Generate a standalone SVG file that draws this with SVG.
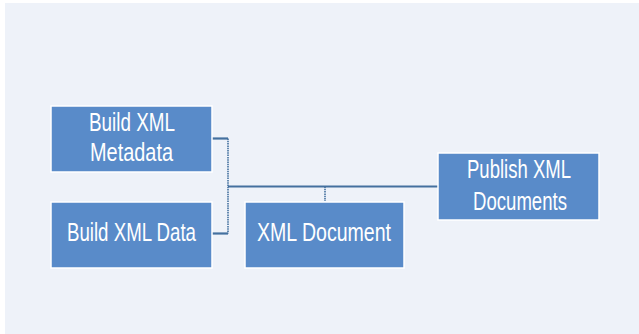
<svg xmlns="http://www.w3.org/2000/svg" width="639" height="334" viewBox="0 0 639 334">
<style>
.box{fill:#598BC9;stroke:#ffffff;stroke-width:1.5}
.lbl{font-family:"Liberation Sans",Arial,sans-serif;font-size:25px;fill:#ffffff;text-anchor:start}
.ln{stroke:#44709F;fill:none;stroke-width:2.2}
.dot{stroke:#44709F;fill:none;stroke-width:1.6;stroke-dasharray:1.5 0.8}
</style>
<rect x="0" y="0" width="639" height="334" fill="#ffffff"/>
<rect x="5" y="3" width="634" height="331" fill="#EEF2F9"/>
<g id="connectors">
<path class="ln" d="M212 138.5 H228"/>
<path class="ln" d="M212 233.5 H228"/>
<path class="dot" d="M228 138.5 V233.5"/>
<path class="ln" d="M228 186.5 H438"/>
<path class="dot" d="M325 186.5 V201"/>
</g>
<g id="n1">
<rect class="box" x="51" y="106" width="161" height="66"/>
<text class="lbl" x="89" y="131" textLength="86" lengthAdjust="spacingAndGlyphs">Build XML</text>
<text class="lbl" x="90" y="161" textLength="83" lengthAdjust="spacingAndGlyphs">Metadata</text>
</g>
<g id="n2">
<rect class="box" x="51" y="202" width="161" height="66"/>
<text class="lbl" x="67" y="241" textLength="129" lengthAdjust="spacingAndGlyphs">Build XML Data</text>
</g>
<g id="n3">
<rect class="box" x="245" y="202" width="159" height="66"/>
<text class="lbl" x="257" y="241" textLength="134" lengthAdjust="spacingAndGlyphs">XML Document</text>
</g>
<g id="n4">
<rect class="box" x="438" y="153" width="161" height="67"/>
<text class="lbl" x="467" y="178" textLength="104" lengthAdjust="spacingAndGlyphs">Publish XML</text>
<text class="lbl" x="473" y="210" textLength="94" lengthAdjust="spacingAndGlyphs">Documents</text>
</g>
</svg>
